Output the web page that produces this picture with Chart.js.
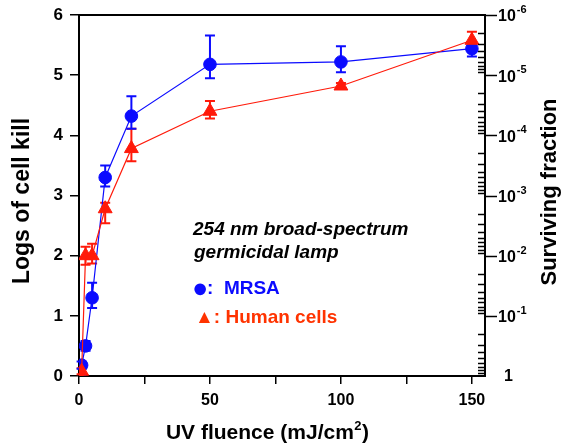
<!DOCTYPE html>
<html><head><meta charset="utf-8">
<script src="https://cdn.jsdelivr.net/npm/chart.js@4"></script>
<style>html,body{margin:0;padding:0;background:#fff;overflow:hidden}</style>
</head><body>
<canvas id="c" width="568" height="446"></canvas>
<script>
// ---- data ----
const fluenceMRSA = [0, 1, 2.5, 5, 10, 20, 50, 100, 150];
const killMRSA    = [0, 0.18, 0.5, 1.3, 3.3, 4.32, 5.18, 5.22, 5.44];
const errHiMRSA   = [0, 0.06, 0.08, 0.25, 0.2, 0.33, 0.48, 0.26, 0.1];
const errLoMRSA   = [0, 0.06, 0.08, 0.17, 0.15, 0.21, 0.23, 0.17, 0.13];

const fluenceHuman = [0, 1, 2.5, 5, 10, 20, 50, 100, 150];
const killHuman    = [0, 0.08, 2.0, 2.0, 2.78, 3.78, 4.4, 4.82, 5.58];
const errHiHuman   = [0, 0.05, 0.15, 0.2, 0.1, 0.33, 0.17, 0.05, 0.14];
const errLoHuman   = [0, 0.05, 0.15, 0.13, 0.24, 0.21, 0.12, 0.05, 0.12];

const xTickValues = [0, 25, 50, 75, 100, 125, 150];
const xTickLabels = ['0', '', '50', '', '100', '', '150'];
const yTickValues = [0, 1, 2, 3, 4, 5, 6];
const yTickLabels = ['0', '1', '2', '3', '4', '5', '6'];
const survDecades = [1, 1e-1, 1e-2, 1e-3, 1e-4, 1e-5, 1e-6];
const survExponents = ['', '-1', '-2', '-3', '-4', '-5', '-6'];

const seriesNames = ['MRSA', 'Human cells'];
const annotationLines = ['254 nm broad-spectrum', 'germicidal lamp'];
const xTitle = 'UV fluence (mJ/cm';
const yTitle = 'Logs of cell kill';
const y2Title = 'Surviving fraction';

const BLUE = '#0b0bff', RED = '#ff1a0a', HUMAN_TXT = '#ff3300';
const FF = "'Liberation Sans', Arial, sans-serif";

const pts = (xs, ys) => xs.map((x, i) => ({x, y: ys[i]}));

const errorBars = {
  id: 'errorBars',
  beforeDatasetsDraw(chart) {
    const {ctx} = chart, xs = chart.scales.x, ys = chart.scales.y;
    chart.data.datasets.forEach(ds => {
      ctx.save();
      ctx.strokeStyle = ds.borderColor; ctx.lineWidth = 2;
      ds.data.forEach((p, i) => {
        const hi = ds.errHi[i], lo = ds.errLo[i];
        if (!hi && !lo) return;
        const px = xs.getPixelForValue(p.x);
        const y1 = ys.getPixelForValue(p.y + hi), y2 = ys.getPixelForValue(p.y - lo);
        ctx.beginPath();
        ctx.moveTo(px, y1); ctx.lineTo(px, y2);
        ctx.moveTo(px - 5, y1); ctx.lineTo(px + 5, y1);
        ctx.moveTo(px - 5, y2); ctx.lineTo(px + 5, y2);
        ctx.stroke();
      });
      ctx.restore();
    });
  }
};

const decor = {
  id: 'decor',
  afterDraw(chart) {
    const {ctx, chartArea: ca} = chart;
    const s2 = chart.scales.y2;
    ctx.save();
    // top frame line
    ctx.strokeStyle = '#000'; ctx.lineWidth = 2;
    ctx.beginPath(); ctx.moveTo(ca.left - 1, ca.top); ctx.lineTo(ca.right, ca.top); ctx.stroke();
    // right log axis ticks
    ctx.lineWidth = 1.5;
    s2.ticks.forEach(t => {
      const y = Math.round(s2.getPixelForValue(t.value)) + 0.5;
      const m = Math.log10(t.value);
      const major = Math.abs(m - Math.round(m)) < 1e-9;
      ctx.beginPath();
      if (major) {
        if (t.value < 1) { ctx.moveTo(ca.right, y); ctx.lineTo(ca.right + 12, y); }
      } else {
        ctx.moveTo(ca.right, y); ctx.lineTo(ca.right - 7, y);
      }
      ctx.stroke();
    });
    // right labels with superscripts
    ctx.fillStyle = '#000'; ctx.textBaseline = 'middle'; ctx.textAlign = 'left';
    survDecades.forEach((v, i) => {
      const y = s2.getPixelForValue(v);
      ctx.font = 'bold 16px ' + FF;
      if (survExponents[i] === '') { ctx.fillText('1', ca.right + 19, y + 1); return; }
      const bx = ca.right + 13;
      ctx.fillText('10', bx, y + 2);
      const w = ctx.measureText('10').width;
      ctx.font = 'bold 11px ' + FF;
      ctx.fillText(survExponents[i], bx + w + 1, y - 5);
    });
    // axis titles
    ctx.font = 'bold 23px ' + FF; ctx.textAlign = 'center';
    ctx.save(); ctx.translate(23, 201); ctx.rotate(-Math.PI / 2); ctx.fillText(yTitle, 0, 0); ctx.restore();
    ctx.font = 'bold 22px ' + FF;
    ctx.save(); ctx.translate(550, 192); ctx.rotate(-Math.PI / 2); ctx.fillText(y2Title, 0, 0); ctx.restore();
    // x title with superscript 2
    ctx.font = 'bold 21px ' + FF;
    const w1 = ctx.measureText(xTitle).width;
    ctx.font = 'bold 13px ' + FF;
    const w2 = ctx.measureText('2').width;
    ctx.font = 'bold 21px ' + FF;
    const w3 = ctx.measureText(')').width;
    let x0 = 267 - (w1 + w2 + w3) / 2;
    ctx.textAlign = 'left';
    ctx.fillText(xTitle, x0, 433);
    ctx.font = 'bold 13px ' + FF; ctx.fillText('2', x0 + w1 + 0.5, 426);
    ctx.font = 'bold 21px ' + FF; ctx.fillText(')', x0 + w1 + w2 + 1, 433);
    // annotation
    ctx.textBaseline = 'alphabetic';
    ctx.font = 'italic bold 19px ' + FF; ctx.fillStyle = '#000';
    ctx.fillText(annotationLines[0], 193, 235);
    ctx.fillText(annotationLines[1], 194, 258);
    ctx.fillStyle = BLUE;
    ctx.font = 'bold 27px ' + FF;
    ctx.fillText('\u25CF', 192, 297);
    ctx.font = 'bold 19px ' + FF;
    ctx.fillText(':  ' + seriesNames[0], 207, 294);
    ctx.fillStyle = HUMAN_TXT;
    ctx.fillText('\u25B2: ' + seriesNames[1], 195, 323);
    ctx.restore();
  }
};

new Chart(document.getElementById('c'), {
  type: 'line',
  data: {
    datasets: [
      { label: seriesNames[1], data: pts(fluenceHuman, killHuman), errHi: errHiHuman, errLo: errLoHuman,
        borderColor: RED, backgroundColor: RED, pointStyle: 'triangle', pointRadius: 8,
        borderWidth: 1.2, pointBorderWidth: 1, tension: 0, order: 0, yAxisID: 'y' },
      { label: seriesNames[0], data: pts(fluenceMRSA, killMRSA), errHi: errHiMRSA, errLo: errLoMRSA,
        borderColor: BLUE, backgroundColor: BLUE, pointStyle: 'circle', pointRadius: 6.3,
        borderWidth: 1.2, pointBorderWidth: 1, tension: 0, order: 1, yAxisID: 'y' }
    ]
  },
  options: {
    responsive: false, animation: false, devicePixelRatio: 1,
    layout: {padding: {top: 15, left: 0, right: 0, bottom: 0}},
    plugins: {legend: {display: false}, tooltip: {enabled: false}},
    scales: {
      x: {
        type: 'linear', min: 0, max: 155,
        afterBuildTicks: s => { s.ticks = xTickValues.map(v => ({value: v})); },
        afterFit: s => { s.height = 70; s.paddingLeft = 0; s.paddingRight = 0; },
        ticks: {autoSkip: false, maxRotation: 0, color: '#000', font: {family: FF, weight: 'bold', size: 16}, padding: 7,
                callback: (v, i) => xTickLabels[i]},
        grid: {drawOnChartArea: false, drawTicks: true, tickLength: 8, color: '#000', lineWidth: 1.5},
        border: {display: true, color: '#000', width: 2}
      },
      y: {
        type: 'linear', position: 'left', min: 0, max: 6,
        afterBuildTicks: s => { s.ticks = yTickValues.map(v => ({value: v})); },
        afterFit: s => { s.width = 79; s.paddingTop = 0; s.paddingBottom = 0; },
        ticks: {color: '#000', font: {family: FF, weight: 'bold', size: 17}, padding: 7, callback: (v, i) => yTickLabels[i]},
        grid: {drawOnChartArea: false, drawTicks: true, tickLength: 9, color: '#000', lineWidth: 1.5},
        border: {display: true, color: '#000', width: 2}
      },
      y2: {
        type: 'logarithmic', position: 'right', reverse: true, min: 1e-6, max: 1,
        afterBuildTicks: s => {
          const t = [];
          for (let e = -6; e <= 0; e++) for (let m = 1; m <= 9; m++) {
            const v = m * Math.pow(10, e);
            if (v <= 1 + 1e-12) t.push({value: v});
          }
          s.ticks = t;
        },
        afterFit: s => { s.width = 83; s.paddingTop = 0; s.paddingBottom = 0; },
        ticks: {display: false},
        grid: {display: false},
        border: {display: true, color: '#000', width: 2}
      }
    }
  },
  plugins: [errorBars, decor]
});
</script>
</body></html>
